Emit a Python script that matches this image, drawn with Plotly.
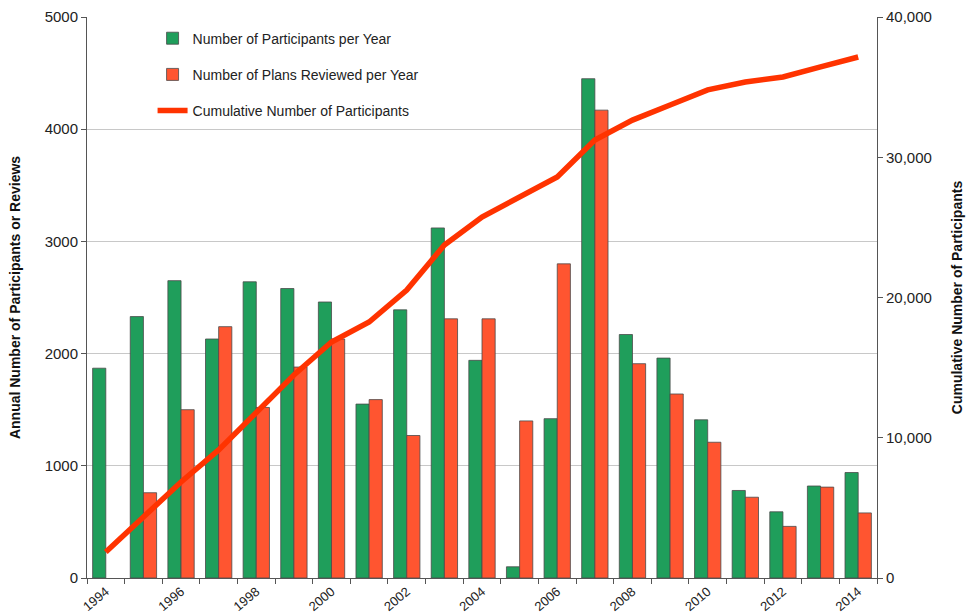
import plotly.graph_objects as go

years = list(range(1994, 2015))
participants = [1870, 2330, 2650, 2130, 2640, 2580, 2460, 1550, 2390, 3120, 1940,
                100, 1420, 4450, 2170, 1960, 1410, 780, 590, 820, 940]
plans_reviewed = [None, 760, 1500, 2240, 1520, 1880, 2130, 1590, 1270, 2310, 2310,
                  1400, 2800, 4170, 1910, 1640, 1210, 720, 460, 810, 580]
cumulative = [1850, 4350, 6850, 9130, 11840, 14470, 16830, 18250, 20530, 23740, 25740,
              27170, 28590, 31230, 32650, 33730, 34800, 35370, 35720, 36440, 37150]
tick_years = list(range(1994, 2015, 2))

FONT = "Liberation Sans, Arial, Helvetica, sans-serif"

fig = go.Figure()
fig.add_trace(go.Bar(
    x=years, y=participants, name="Number of Participants per Year",
    marker=dict(color="#1f9e5b", line=dict(color="#4a4a4a", width=0.8)),
    legendgroup="a",
))
fig.add_trace(go.Bar(
    x=years, y=plans_reviewed, name="Number of Plans Reviewed per Year",
    marker=dict(color="#ff5530", line=dict(color="#4a4a4a", width=0.8)),
    legendgroup="b",
))
fig.add_trace(go.Scatter(
    x=years, y=cumulative, name="Cumulative Number of Participants",
    mode="lines", line=dict(color="#ff3300", width=5.5),
    yaxis="y2", legendgroup="c",
))

fig.update_layout(
    width=967, height=613,
    margin=dict(l=87, r=90, t=17, b=35, autoexpand=False),
    paper_bgcolor="white", plot_bgcolor="white",
    font=dict(family=FONT, color="#222222", size=14),
    barmode="group", bargap=0.3, bargroupgap=0,
    showlegend=True,
    legend=dict(
        x=0.083, y=0.99, xanchor="left", yanchor="top",
        bgcolor="rgba(0,0,0,0)", font=dict(size=14, color="#222222"),
        traceorder="grouped", tracegroupgap=15,
    ),
    xaxis=dict(
        range=[1993.5, 2014.5], automargin=False,
        tickmode="array", tickvals=tick_years, ticktext=[str(y) for y in tick_years],
        tickangle=-40, ticks="", showgrid=False,
        showline=True, linecolor="#555555", linewidth=1,
        tickfont=dict(size=13),
        minor=dict(tickmode="linear", tick0=1993.5, dtick=1, ticks="outside",
                   ticklen=5, tickcolor="#555555", showgrid=False),
        zeroline=False,
    ),
    yaxis=dict(
        range=[0, 5000], dtick=1000, tickformat="d", automargin=False,
        showgrid=True, gridcolor="#c8c8c8", gridwidth=1,
        showline=True, linecolor="#555555", linewidth=1,
        ticks="outside", ticklen=5, tickcolor="#555555",
        tickfont=dict(size=15),
        zeroline=False,
        title=dict(text="<b>Annual Number of Participants or Reviews</b>",
                   font=dict(size=14, color="#111111"), standoff=20),
    ),
    yaxis2=dict(
        range=[0, 40000], dtick=10000, tickformat=",d", automargin=False,
        overlaying="y", side="right",
        showgrid=False, showline=True, linecolor="#555555", linewidth=1,
        ticks="outside", ticklen=5, tickcolor="#555555",
        tickfont=dict(size=15),
        zeroline=False,
        title=dict(text="<b>Cumulative Number of Participants</b>",
                   font=dict(size=14, color="#111111"), standoff=21),
    ),
)

fig.write_html(
    "out.html",
    config={"displayModeBar": False},
    post_script="document.body.style.margin='0';document.body.style.overflow='hidden';",
)
